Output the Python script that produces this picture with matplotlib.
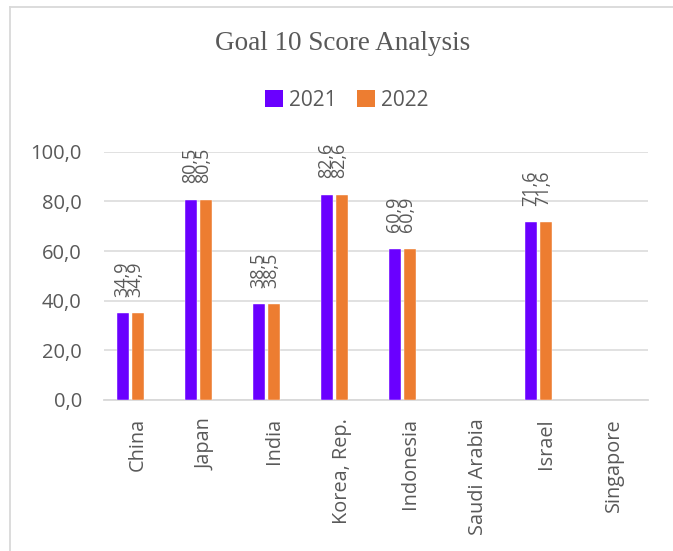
import numpy as np
import matplotlib
matplotlib.use("Agg")
import matplotlib.pyplot as plt
from matplotlib.lines import Line2D
from matplotlib.patches import Patch

categories = ["China", "Japan", "India", "Korea, Rep.", "Indonesia", "Saudi Arabia", "Israel", "Singapore"]
values_2021 = [34.9, 80.5, 38.5, 82.6, 60.9, np.nan, 71.6, np.nan]
values_2022 = [34.9, 80.5, 38.5, 82.6, 60.9, np.nan, 71.6, np.nan]
series_names = ["2021", "2022"]
yticks = [0, 20, 40, 60, 80, 100]
title = "Goal 10 Score Analysis"

C_2021 = "#6A00FF"
C_2022 = "#ED7D31"
TXT = "#595959"
GRID = "#D9D9D9"

W, H = 673, 551
fig = plt.figure(figsize=(W / 100, H / 100), dpi=100)
fig.patch.set_facecolor("white")

# chart border (top and left visible)
fig.add_artist(Line2D([9.5 / W, 1.0], [1 - 6.5 / H, 1 - 6.5 / H], color=GRID, lw=1.3, transform=fig.transFigure))
fig.add_artist(Line2D([9.5 / W, 9.5 / W], [0, 1 - 6.5 / H], color=GRID, lw=1.3, transform=fig.transFigure))

left, right = 104 / W, 648 / W
bottom, top = 1 - 400 / H, 1 - 151.7 / H
ax = fig.add_axes([left, bottom, right - left, top - bottom])
ax.set_facecolor("white")

x = np.arange(len(categories))
bw = 12 / 68
off1 = -15 / 68
off2 = 0.0
ax.bar(x + off1, values_2021, width=bw, color=C_2021, edgecolor="white", linewidth=0.3, zorder=3)
ax.bar(x + off2, values_2022, width=bw, color=C_2022, edgecolor="white", linewidth=0.3, zorder=3)

ax.set_xlim(-0.5, len(categories) - 0.5)
ax.set_ylim(0, 100)
ax.set_yticks(yticks)
ax.set_yticklabels([f"{v:.1f}".replace(".", ",") for v in yticks], fontsize=14.5, color=TXT, family="Open Sans")
ax.set_xticks(x)
ax.set_xticklabels(categories, rotation=90, fontsize=14.3, color=TXT, family="Open Sans", va="top", ha="center")
ax.tick_params(axis="y", length=0, pad=16)
ax.tick_params(axis="x", length=0, pad=13)
ax.grid(axis="y", color=GRID, lw=1.1, zorder=0)
ax.set_axisbelow(True)
for s in ["top", "right", "left"]:
    ax.spines[s].set_visible(False)
ax.spines["bottom"].set_color(GRID)
ax.spines["bottom"].set_linewidth(1.3)

for vals, off in [(values_2021, off1 - 0.015), (values_2022, off2 - 0.04)]:
    for xi, v in zip(x, vals):
        if np.isnan(v):
            continue
        ax.annotate(f"{v:.1f}".replace(".", ","), xy=(xi + off, v), xytext=(0, 12),
                    textcoords="offset points", rotation=90, ha="center", va="bottom",
                    fontsize=13, color=TXT, family="Open Sans", annotation_clip=False)

fig.text(343 / W, 1 - 43 / H, title, ha="center", va="center", fontsize=19.5,
         color=TXT, family="Liberation Serif")

handles = [Patch(facecolor=C_2021, edgecolor="none"), Patch(facecolor=C_2022, edgecolor="none")]
fig.legend(handles, series_names, loc="center", bbox_to_anchor=(347 / W, 1 - 100 / H), ncol=2,
           frameon=False, prop={"family": "Open Sans", "size": 15}, labelcolor=TXT,
           handlelength=0.85, handleheight=0.85, handletextpad=0.3, columnspacing=1.0)

fig.savefig("out.png", dpi=100, facecolor="white")
